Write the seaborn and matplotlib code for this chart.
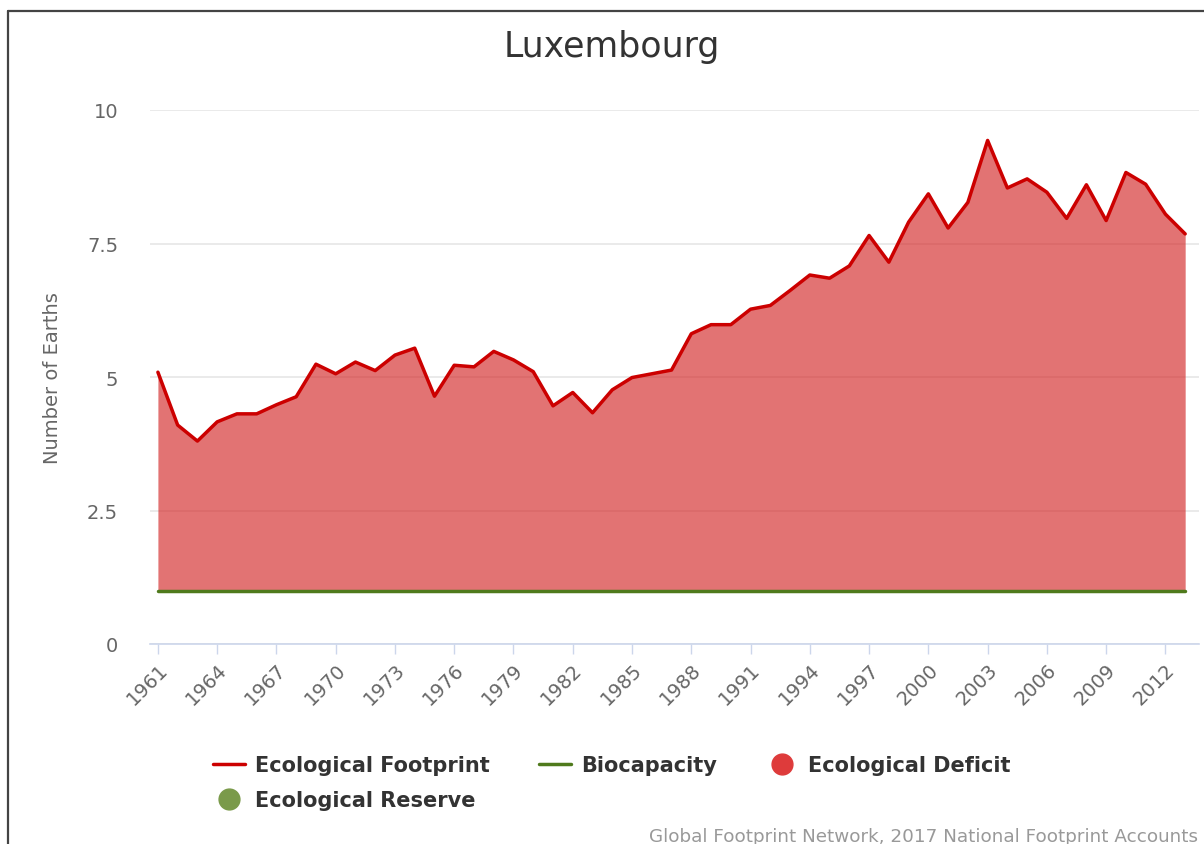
import matplotlib
matplotlib.use("Agg")
import matplotlib.pyplot as plt
from matplotlib.lines import Line2D
import seaborn as sns
import pandas as pd

years = list(range(1961, 2014))
footprint = [5.09, 4.10, 3.80, 4.16, 4.31, 4.31, 4.48, 4.63, 5.24, 5.06,
             5.28, 5.12, 5.41, 5.54, 4.64, 5.22, 5.19, 5.48, 5.32, 5.10,
             4.46, 4.71, 4.33, 4.76, 4.99, 5.06, 5.13, 5.81, 5.98, 5.98,
             6.27, 6.34, 6.62, 6.91, 6.85, 7.08, 7.65, 7.15, 7.90, 8.43,
             7.79, 8.27, 9.43, 8.54, 8.71, 8.46, 7.97, 8.60, 7.93, 8.83,
             8.61, 8.05, 7.68]
biocapacity = [1.0] * len(years)
x_ticks = list(range(1961, 2013, 3))
y_ticks = [0, 2.5, 5, 7.5, 10]
y_tick_labels = ["0", "2.5", "5", "7.5", "10"]

df = pd.DataFrame({"year": years, "footprint": footprint, "biocapacity": biocapacity})

sns.set_theme(style="white")
plt.rcParams["font.family"] = ["DejaVu Sans"]

W, H = 1204, 845
fig = plt.figure(figsize=(W / 100, H / 100), dpi=100)
ax = fig.add_axes([150 / W, 1 - 645 / H, 1049 / W, 534 / H])

fill_color = "#D42A2A"
ax.fill_between(df["year"], df["biocapacity"], df["footprint"],
                where=df["footprint"] >= df["biocapacity"],
                color=fill_color, alpha=0.66, linewidth=0, zorder=2)
sns.lineplot(data=df, x="year", y="footprint", ax=ax, color="#CC0000",
             linewidth=2.5, zorder=4)
sns.lineplot(data=df, x="year", y="biocapacity", ax=ax, color="#4F7A1C",
             linewidth=2.5, zorder=4)

ax.set_xlim(1960.6, 2013.7)
ax.set_ylim(0, 10)
ax.set_yticks(y_ticks)
ax.set_yticklabels(y_tick_labels)
ax.set_xticks(x_ticks)
ax.set_xticklabels([str(y) for y in x_ticks], rotation=45, ha="right",
                   va="top", rotation_mode="anchor")
ax.set_axisbelow(True)
ax.yaxis.grid(True, color="#E6E6E6", linewidth=1.2)
ax.xaxis.grid(False)
for s in ["left", "top", "right"]:
    ax.spines[s].set_visible(False)
ax.spines["bottom"].set_color("#CCD6EB")
ax.spines["bottom"].set_linewidth(1.2)
ax.spines["bottom"].set_zorder(1)
ax.tick_params(axis="y", length=0, pad=23, labelsize=14, labelcolor="#666666")
ax.tick_params(axis="x", length=7, width=1, color="#CCD6EB", direction="out",
               pad=4, labelsize=14, labelcolor="#666666", bottom=True)
ax.set_xlabel("")
ax.set_ylabel("Number of Earths", fontsize=14, color="#666666", labelpad=18)

fig.text(612 / W, 1 - 57 / H, "Luxembourg", ha="center", va="baseline",
         fontsize=25, color="#333333")

handles = [
    Line2D([], [], color="#CC0000", linewidth=2.5),
    Line2D([], [], marker="o", linestyle="none", markersize=15,
           markerfacecolor="#7A9A4A", markeredgecolor="#7A9A4A"),
    Line2D([], [], color="#4F7A1C", linewidth=2.5),
    Line2D([], [], marker="o", linestyle="none", markersize=15,
           markerfacecolor="#DE3B3B", markeredgecolor="#DE3B3B"),
]
labels = ["Ecological Footprint", "Ecological Reserve", "Biocapacity",
          "Ecological Deficit"]
fig.legend(handles, labels, loc="upper left",
           bbox_to_anchor=(213 / W, 1 - 756 / H), ncol=3, frameon=False,
           borderpad=0, borderaxespad=0, handlelength=1.54, handletextpad=0.48,
           columnspacing=2.36, labelspacing=0.72,
           prop={"weight": "bold", "size": 15}, labelcolor="#333333")

fig.text(1198 / W, 1 - 828 / H,
         "Global Footprint Network, 2017 National Footprint Accounts",
         ha="right", va="top", fontsize=13.2, color="#999999")

fig.add_artist(Line2D([8 / W, 8 / W], [0, 1 - 12 / H], transform=fig.transFigure,
                      color="#444444", linewidth=1.6))
fig.add_artist(Line2D([8 / W, 1], [1 - 12 / H, 1 - 12 / H], transform=fig.transFigure,
                      color="#444444", linewidth=1.6))

fig.savefig("out.png", dpi=100, facecolor="white")
